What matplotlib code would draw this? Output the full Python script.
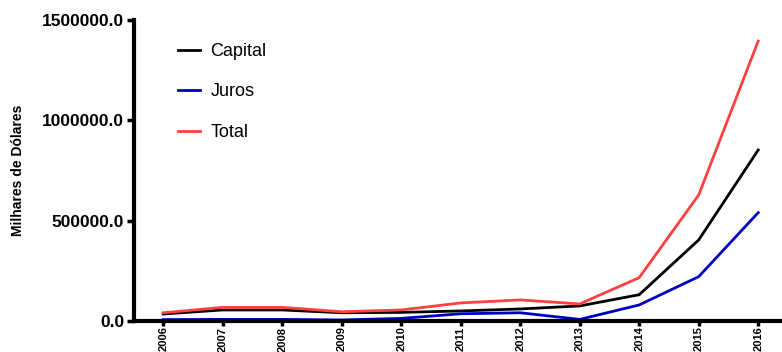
import matplotlib
matplotlib.use("Agg")
import matplotlib.pyplot as plt

# data
anos = [2006, 2007, 2008, 2009, 2010, 2011, 2012, 2013, 2014, 2015, 2016]
capital = [35000, 55000, 55000, 41000, 43000, 50000, 60000, 75000, 131000, 404000, 852000]
juros = [7000, 8000, 8000, 5000, 13000, 36000, 41000, 8000, 80000, 221000, 540000]
total = [41000, 68000, 68000, 46000, 55000, 90000, 105000, 85000, 216000, 628000, 1395000]
yticks = [0, 500000, 1000000, 1500000]

plt.rcParams['font.family'] = ['Liberation Sans', 'DejaVu Sans']

fig = plt.figure(figsize=(7.82, 3.52), dpi=100)
ax = fig.add_axes([134/782, 31/352, 1 - 134/782, 301/352])

ax.plot(anos, capital, color='black', lw=2, label='Capital')
ax.plot(anos, juros, color='#0000c0', lw=2, label='Juros')
ax.plot(anos, total, color='#ff4040', lw=2, label='Total')

ax.set_xlim(2005.51, 2016.4)
ax.set_ylim(0, 1500000)
ax.set_yticks(yticks)
ax.set_yticklabels(['%.1f' % v for v in yticks], fontsize=12.5, fontweight='bold')
ax.set_xticks(anos)
ax.set_xticklabels([str(a) for a in anos], rotation=90, fontsize=8, fontweight='bold')

for s in ['top', 'right']:
    ax.spines[s].set_visible(False)
for s in ['left', 'bottom']:
    ax.spines[s].set_linewidth(3)
ax.tick_params(axis='y', width=2.5, length=5, direction='out', pad=2)
ax.tick_params(axis='x', width=2.5, length=3.5, direction='out', pad=0.5)

fig.text(18/782, 1 - 170/352, 'Milhares de Dólares', rotation=90, ha='center', va='center',
         fontsize=10, fontweight='bold')

leg = ax.legend(loc='upper left', bbox_to_anchor=(178/782, 1 - 43/352),
                bbox_transform=fig.transFigure, frameon=False, fontsize=13,
                handlelength=1.2, handletextpad=0.6, labelspacing=1.3,
                borderpad=0, borderaxespad=0)

fig.savefig('out.png', dpi=100)
